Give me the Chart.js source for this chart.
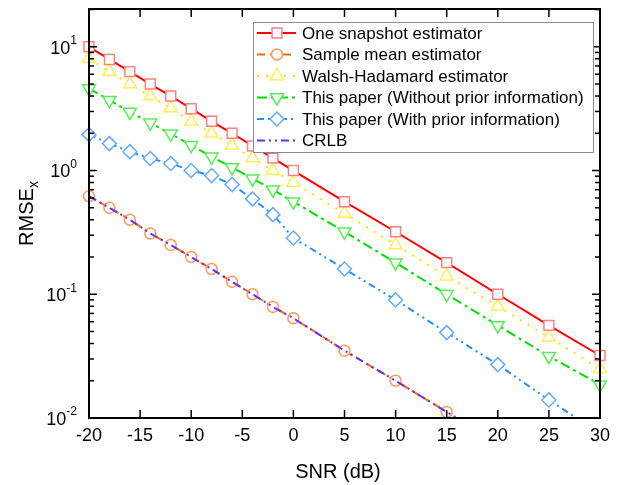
<!DOCTYPE html>
<html><head><meta charset="utf-8">
<script src="https://cdn.jsdelivr.net/npm/chart.js@4/dist/chart.umd.min.js"></script>
<style>html,body{margin:0;padding:0;background:#fff}#c{display:block}</style>
</head><body>
<canvas id="c" width="627" height="485"></canvas>
<script>
// ---- data ----
const snr = [-20,-18,-16,-14,-12,-10,-8,-6,-4,-2,0,5,10,15,20,25,30];
const oneSnapshot   = [10,7.9,6.3,5.0,4.0,3.16,2.5,2.0,1.58,1.26,1.0,0.56,0.32,0.18,0.10,0.056,0.032];
const sampleMean    = [0.62,0.50,0.40,0.31,0.25,0.20,0.16,0.126,0.10,0.079,0.064,0.035,0.020,0.0112,0.0063,null,null];
const walshHadamard = [8.0,6.3,5.0,4.0,3.2,2.5,2.0,1.6,1.26,1.0,0.8,0.45,0.25,0.14,0.08,0.045,0.025];
const withoutPrior  = [4.6,3.7,2.97,2.43,1.98,1.6,1.29,1.06,0.86,0.70,0.56,0.32,0.18,0.10,0.056,0.0316,0.0186];
const withPrior     = [1.95,1.65,1.42,1.25,1.14,1.0,0.91,0.77,0.59,0.44,0.285,0.16,0.09,0.049,0.027,0.014,0.0075];
const crlb          = [0.62,0.50,0.40,0.31,0.25,0.20,0.16,0.126,0.10,0.079,0.064,0.035,0.020,0.0112,0.0063,null,null];
const seriesNames = ['One snapshot estimator','Sample mean estimator','Walsh-Hadamard estimator',
  'This paper (Without prior information)','This paper (With prior information)','CRLB'];
const xTicks = [-20,-15,-10,-5,0,5,10,15,20,25,30];
const yMajor = [0.01,0.1,1,10];
const yExp = ['-2','-1','0','1'];
const xTitle = 'SNR (dB)';
const yTitle = 'RMSE';
const yTitleSub = 'x';

const FONT = 'Arial, "Liberation Sans", sans-serif';
const toXY = arr => snr.map((x,i)=>({x, y: arr[i]}));

const styles = [
  {line:'#ff0000', mark:'#ff8080', dash:[], shape:'square', r:7, order:2},
  {line:'#ff6a00', mark:'#ff9a5a', dash:[8,5], shape:'circle', r:5.5, order:1},
  {line:'#ffe000', mark:'#ffee55', dash:[2,7], shape:'triangle', r:7.5, order:3},
  {line:'#00e000', mark:'#55ee55', dash:[10,4,3,4], shape:'itriangle', r:7.5, order:4},
  {line:'#1e90ff', mark:'#66aaff', dash:[7,4,2,4,2,4], shape:'diamond', r:7, order:5},
  {line:'#6030ff', mark:'#6030ff', dash:[8,4,2,4,2,4], shape:'none', r:0, order:0},
];
const values = [oneSnapshot, sampleMean, walshHadamard, withoutPrior, withPrior, crlb];

const datasets = values.map((v,i)=>{
  const s = styles[i];
  return {
    label: seriesNames[i],
    data: toXY(v),
    borderColor: s.line,
    borderWidth: 2,
    borderDash: s.dash,
    pointStyle: s.shape==='square'?'rect':s.shape==='circle'?'circle':s.shape==='diamond'?'rectRot':(s.shape==='none'?false:'triangle'),
    rotation: s.shape==='itriangle'?180:0,
    pointRadius: s.r,
    pointBorderColor: s.mark,
    pointBackgroundColor: '#ffffff',
    pointBorderWidth: 1.5,
    pointHoverRadius: s.r,
    tension: 0,
    spanGaps: false,
    order: s.order,
    clip: {left: 10, right: 10, top: 10, bottom: 0}
  };
});

function drawMarker(ctx, shape, x, y, r, color){
  ctx.save();
  ctx.setLineDash([]);
  ctx.lineWidth = 1.5; ctx.strokeStyle = color; ctx.fillStyle = '#fff';
  ctx.beginPath();
  if (shape==='square'){ const h=r*Math.SQRT1_2; ctx.rect(x-h,y-h,2*h,2*h); }
  else if (shape==='circle'){ ctx.arc(x,y,r,0,Math.PI*2); }
  else if (shape==='triangle' || shape==='itriangle'){
    const sgn = shape==='triangle'?1:-1;
    for (let k=0;k<3;k++){ const a=-Math.PI/2 + k*2*Math.PI/3; const px=x+r*Math.cos(a), py=y+sgn*r*Math.sin(a); k?ctx.lineTo(px,py):ctx.moveTo(px,py);} ctx.closePath();
  }
  else if (shape==='diamond'){ ctx.moveTo(x,y-r); ctx.lineTo(x+r,y); ctx.lineTo(x,y+r); ctx.lineTo(x-r,y); ctx.closePath(); }
  else { ctx.restore(); return; }
  ctx.fill(); ctx.stroke();
  ctx.restore();
}

const decor = {
  id: 'decor',
  afterDatasetsDraw(chart){
    const {ctx, chartArea:a, scales:{x, y}} = chart;
    ctx.save();
    ctx.strokeStyle = '#000'; ctx.lineWidth = 1.5; ctx.setLineDash([]);
    const seg=(x1,y1,x2,y2)=>{ctx.beginPath();ctx.moveTo(x1,y1);ctx.lineTo(x2,y2);ctx.stroke();};
    // x ticks (inside, top and bottom)
    xTicks.forEach(v=>{const px=x.getPixelForValue(v); seg(px,a.bottom,px,a.bottom-8); seg(px,a.top,px,a.top+8);});
    // y ticks (inside, left and right)
    yMajor.forEach(m=>{
      for (let k=1;k<=9;k++){
        const v=m*k; if (v> y.max) break;
        const py=y.getPixelForValue(v); const len = k===1?8:5;
        seg(a.left,py,a.left+len,py); seg(a.right,py,a.right-len,py);
      }
    });
    // frame
    ctx.lineWidth = 2;
    ctx.strokeRect(a.left, a.top, a.right-a.left, a.bottom-a.top);
    // x tick labels
    ctx.fillStyle = '#000';
    ctx.font = '18px ' + FONT; ctx.textAlign='center'; ctx.textBaseline='middle';
    xTicks.forEach(v=>ctx.fillText(String(v), x.getPixelForValue(v), 436));
    // y tick labels with exponent
    yMajor.forEach((v,i)=>{
      const py=y.getPixelForValue(v);
      ctx.font = '12px ' + FONT; const we = ctx.measureText(yExp[i]).width;
      ctx.font = '18px ' + FONT; const wb = ctx.measureText('10').width;
      const right = 77;
      ctx.textAlign='left'; ctx.textBaseline='middle';
      ctx.fillText('10', right-we-wb, py+2);
      ctx.font = '12px ' + FONT; ctx.fillText(yExp[i], right-we, py-6);
    });
    // axis titles
    ctx.font = '20px ' + FONT; ctx.textAlign='center'; ctx.textBaseline='middle';
    ctx.fillText(xTitle, 338, 472);
    ctx.save();
    ctx.translate(27, (a.top+a.bottom)/2); ctx.rotate(-Math.PI/2);
    ctx.font = '20px ' + FONT; const wt = ctx.measureText(yTitle).width;
    ctx.font = '14px ' + FONT; const ws = ctx.measureText(yTitleSub).width;
    const start = -(wt+ws)/2;
    ctx.textAlign='left';
    ctx.font = '20px ' + FONT; ctx.fillText(yTitle, start, 0);
    ctx.font = '14px ' + FONT; ctx.fillText(yTitleSub, start+wt, 7);
    ctx.restore();
    // legend
    const L=253, T=22, R=593, B=152;
    ctx.fillStyle='#fff'; ctx.fillRect(L,T,R-L,B-T);
    ctx.strokeStyle='#8c8c8c'; ctx.lineWidth=1; ctx.strokeRect(L+0.5,T+0.5,R-L,B-T);
    chart.data.datasets.forEach((ds,i)=>{
      const s=styles[i]; const ry = 33 + i*21.5;
      ctx.save();
      ctx.strokeStyle=s.line; ctx.lineWidth=2; ctx.setLineDash(s.dash);
      ctx.beginPath(); ctx.moveTo(257,ry); ctx.lineTo(296,ry); ctx.stroke();
      ctx.restore();
      drawMarker(ctx, s.shape, 277, ry, s.r, s.mark);
      ctx.fillStyle='#000'; ctx.font='17px ' + FONT; ctx.textAlign='left'; ctx.textBaseline='middle';
      ctx.fillText(ds.label, 302, ry+1);
    });
    ctx.restore();
  }
};

new Chart(document.getElementById('c'), {
  type: 'line',
  data: { datasets },
  options: {
    responsive: false,
    animation: false,
    events: [],
    layout: { padding: {left: 89, right: 27, top: 6, bottom: 67} },
    plugins: { legend: {display:false}, tooltip: {enabled:false}, title:{display:false} },
    scales: {
      x: { type:'linear', min:-20, max:30, display:false },
      y: { type:'logarithmic', min:0.01, max:20.2, display:false }
    }
  },
  plugins: [decor]
});
</script>
</body></html>
